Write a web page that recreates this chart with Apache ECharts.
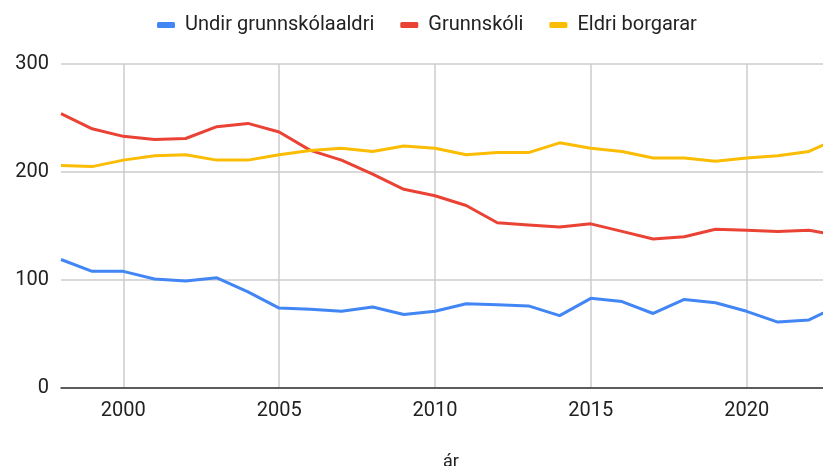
<!DOCTYPE html>
<html>
<head>
<meta charset="utf-8">
<script src="https://cdn.jsdelivr.net/npm/echarts@6/dist/echarts.min.js"></script>
<style>
html, body { margin: 0; padding: 0; background: #fff; }
#chart { width: 823px; height: 466px; }
</style>
</head>
<body>
<div id="chart"></div>
<script>
const years = [1998, 1999, 2000, 2001, 2002, 2003, 2004, 2005, 2006, 2007, 2008, 2009, 2010,
  2011, 2012, 2013, 2014, 2015, 2016, 2017, 2018, 2019, 2020, 2021, 2022, 2023]
const undirGrunnskolaaldri = [119, 108, 108, 101, 99, 102, 89, 74, 73, 71, 75, 68, 71,
  78, 77, 76, 67, 83, 80, 69, 82, 79, 71, 61, 63, 77]
const grunnskoli = [254, 240, 233, 230, 231, 242, 245, 237, 220, 211, 198, 184, 178,
  169, 153, 151, 149, 152, 145, 138, 140, 147, 146, 145, 146, 141]
const eldriBorgarar = [206, 205, 211, 215, 216, 211, 211, 216, 220, 222, 219, 224, 222,
  216, 218, 218, 227, 222, 219, 213, 213, 210, 213, 215, 219, 232]
const xTicks = [2000, 2005, 2010, 2015, 2020]

const pairs = arr => years.map((y, i) => [y, arr[i]])

let myChart = echarts.init(document.getElementById('chart'))
myChart.setOption({
    animation: false,
    textStyle: { fontFamily: 'Roboto, Arial, sans-serif' },
    grid: {
        left: 61,
        right: 0,
        top: 64,
        bottom: 78,
        outerBoundsMode: 'none',
        containLabel: false
    },
    legend: {
        top: 10,
        left: 152,
        itemWidth: 18,
        itemHeight: 6,
        itemGap: 26,
        icon: 'roundRect',
        textStyle: {
            fontSize: 20,
            color: '#222',
            padding: [0, 0, 0, 5]
        }
    },
    xAxis: {
        type: 'value',
        min: 1998,
        max: 2022.45,
        name: 'ár',
        nameLocation: 'middle',
        nameGap: 65,
        nameTextStyle: { fontSize: 18, color: '#222', padding: [0, 0, 0, 18] },
        axisLine: { show: true, onZero: false, lineStyle: { color: '#333', width: 1.5 } },
        axisTick: { show: false, customValues: xTicks },
        axisLabel: {
            customValues: xTicks,
            fontSize: 20,
            color: '#222',
            margin: 13,
            formatter: v => String(v)
        },
        splitLine: { show: true, lineStyle: { color: '#cccccc', width: 1.5 } }
    },
    yAxis: {
        type: 'value',
        min: 0,
        max: 300,
        interval: 100,
        axisLine: { show: false },
        axisTick: { show: false },
        axisLabel: {
            fontSize: 20,
            color: '#222',
            margin: 12
        },
        splitLine: { lineStyle: { color: '#cccccc', width: 1.5 } }
    },
    series: [
        {
            name: 'Undir grunnskólaaldri',
            type: 'line',
            data: pairs(undirGrunnskolaaldri),
            showSymbol: false,
            color: '#4285F4',
            lineStyle: { width: 3 }
        },
        {
            name: 'Grunnskóli',
            type: 'line',
            data: pairs(grunnskoli),
            showSymbol: false,
            color: '#EA4335',
            lineStyle: { width: 3 }
        },
        {
            name: 'Eldri borgarar',
            type: 'line',
            data: pairs(eldriBorgarar),
            showSymbol: false,
            color: '#FBBC04',
            lineStyle: { width: 3 }
        }
    ]
})
</script>
</body>
</html>
